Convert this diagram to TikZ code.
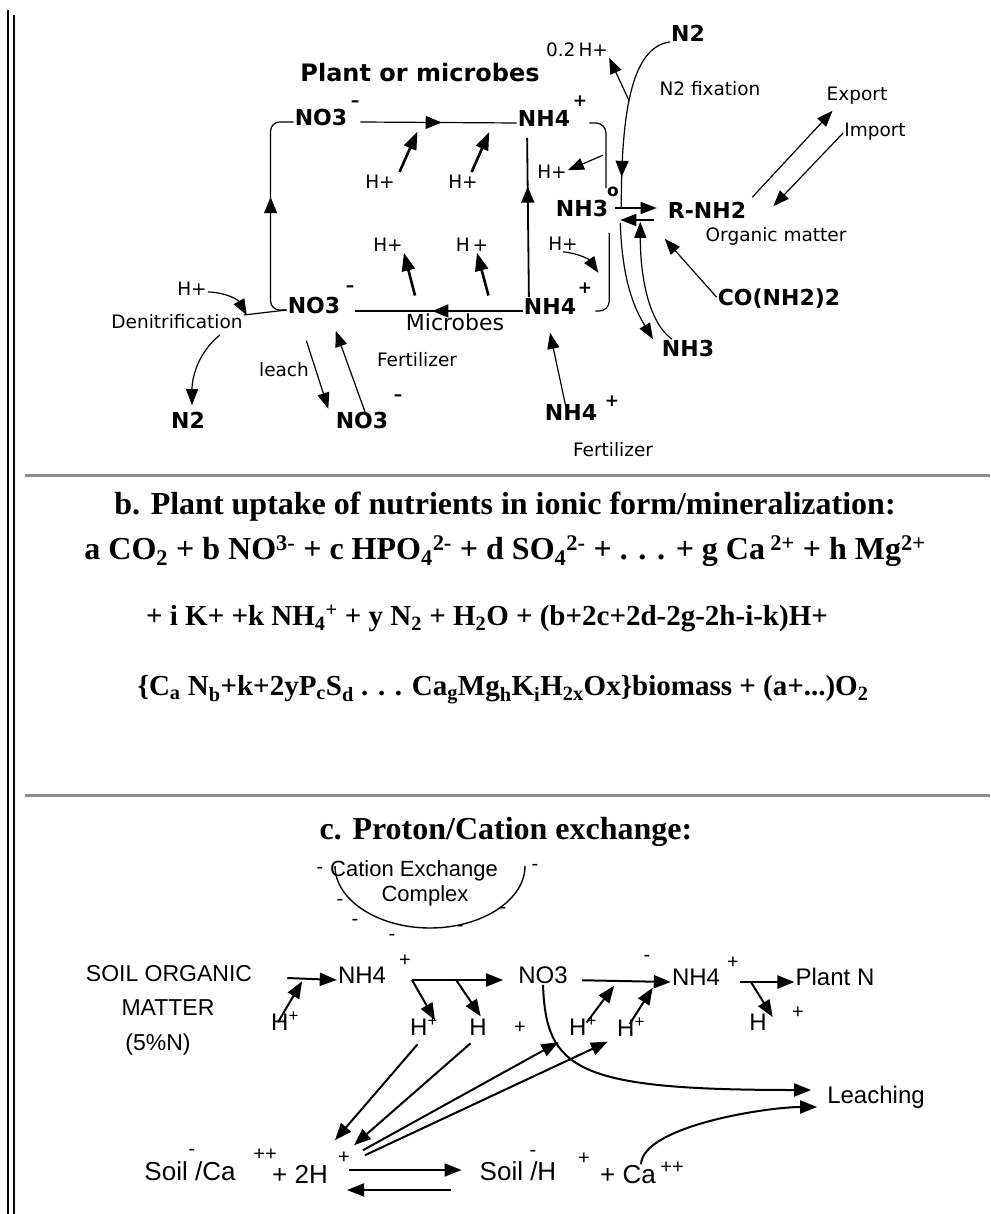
\documentclass[tikz,border=0pt]{standalone}
\usepackage{fontspec}
\setmainfont{Liberation Serif}
\newfontfamily\geneva{DejaVu Sans}
\newfontfamily\optima{Liberation Sans}
\usetikzlibrary{arrows.meta,decorations.markings}

\begin{document}
\begin{tikzpicture}[x=1pt, y=-1pt,
  every node/.style={inner sep=1pt, text height=.72em, text depth=0pt},
  lab/.style={font=\geneva\bfseries\fontsize{22}{24}\selectfont},
  sml/.style={font=\geneva\fontsize{18.5}{20}\selectfont},
  chg/.style={font=\geneva\bfseries\fontsize{17}{18}\selectfont},
  ctx/.style={font=\optima\fontsize{24}{26}\selectfont},
  soil/.style={font=\optima\fontsize{26}{28}\selectfont},
  csg/.style={font=\optima\fontsize{20}{22}\selectfont},
  ser/.style={font=\bfseries\fontsize{32}{38}\selectfont},
  sers/.style={font=\bfseries\fontsize{29}{34}\selectfont},
  ln/.style={line width=1.2pt},
  fa/.style={ln, -{Triangle[length=16pt,width=12pt]}},
  ha/.style={line width=2.6pt, -{Triangle[length=18pt,width=13pt]}},
  ca/.style={line width=2pt, -{Triangle[length=17pt,width=13pt]}},
  midarr/.style={postaction={decorate}, decoration={markings,
      mark=at position #1 with {\arrow{Triangle[length=16pt,width=13pt]}}}},
  sepline/.style={line width=3pt, draw=black!45}]

\useasboundingbox (0,0) rectangle (990,1214);

% frame and rules
\draw[line width=1.4pt] (8,10) -- (8,1214);
\draw[line width=1.4pt] (14,15) -- (14,1214);
\draw[sepline] (25,475) -- (990,475);
\draw[sepline] (25,795) -- (990,795);

% a. nitrogen cycle
\node[lab, font=\geneva\bfseries\fontsize{24}{26}\selectfont] (plant) at (420,78) {Plant or microbes};
\node[lab] (no3t) at (321,122) {NO3};
\node[chg] (no3tc) at (355,103) {\textendash};
\node[lab] (nh4t) at (544,123) {NH4};
\node[chg] (nh4tc) at (580,103) {+};
\node[lab] (no3b) at (314,310) {NO3};
\node[chg] (no3bc) at (350,288) {\textendash};
\node[lab] (nh4b) at (550,311) {NH4};
\node[sml, font=\geneva\fontsize{22}{24}\selectfont] (micro) at (455,327) {Microbes};
\node[sml] (ha1) at (380,185) {H+};
\node[sml] (ha2) at (463,185) {H+};
\node[sml] (hb1) at (388,248) {H+};
\node[sml] (hb2) at (472,248) {H\,+};
\node[sml] (hd) at (192,292) {H+};
\node[sml] (denit) at (177,325) {Denitrification};
\node[lab] (n2d) at (188,425) {N2};
\node[sml] (leach) at (284,373) {leach};
\node[lab] (no3l) at (362,425) {NO3};
\node[chg] (no3lc) at (398,397) {\textendash};
\node[sml] (fert1) at (417,363) {Fertilizer};
\node[lab] (n2t) at (688,38) {N2};
\node[sml] (h02) at (577,53) {0.2\,H+};
\node[sml] (fix) at (710,92) {N2 fixation};
\node[sml] (export) at (857,97) {Export};
\node[sml] (import) at (875,133) {Import};
\node[sml] (hn) at (552,175) {H+};
\node[chg] (alpha) at (613,193) {o};
\node[lab] (nh3) at (582,213) {NH3};
\node[lab] (rnh2) at (707,215) {R-NH2};
\node[sml] (orgm) at (776,238) {Organic matter};
\node[sml] (hs) at (563,247) {H+};
\node[chg] (hsc) at (585,290) {+};
\node[lab] (urea) at (779,302) {CO(NH2)2};
\node[lab] (nh3b) at (688,353) {NH3};
\node[lab] (nh4f) at (571,417) {NH4};
\node[chg] (nh4fc) at (612,403) {+};
\node[sml] (fert2) at (613,453) {Fertilizer};

\draw[ln, midarr=.52] (no3tc.east |- no3t) -- coordinate[pos=.39] (ht1) coordinate[pos=.85] (ht2) (nh4t.west);
\draw[ln, line width=1.8pt, midarr=.54] (nh4b.west) -- coordinate[pos=.62] (hl1) coordinate[pos=.18] (hl2) (no3bc.east |- nh4b.west);
\draw[ln, line width=1.8pt, midarr=.67, shorten <=9pt, shorten >=10pt] ([xshift=-21pt]nh4b.north) -- ([xshift=-17pt]nh4t.south);
\draw[ln, rounded corners=9pt, midarr=.57] (no3b.west) -- ([xshift=-16pt]no3b.west) |- (no3t.west);
\draw[ln] ([yshift=10pt]denit.east) -- (no3b.west);
\draw[fa] (hd.east) to[bend left=30] ([xshift=3pt,yshift=5pt]denit.north east);
\draw[fa] ([xshift=43pt,yshift=-5pt]denit.south) .. controls +(-22,18) and +(0,-28) .. ([xshift=4pt,yshift=15pt]n2d.north);
\draw[fa, shorten <=27pt, shorten >=12pt] ([xshift=-16pt]no3b.south) -- ([xshift=-30pt]no3l.north);
\draw[fa, shorten <=9pt, shorten >=17pt] ([xshift=6pt]no3l.north) -- ([xshift=16pt]no3b.south);
\draw[ha, shorten <=9pt, shorten >=10pt] (ha1.north east) -- (ht1);
\draw[ha, shorten <=9pt, shorten >=10pt] ([xshift=5pt]ha2.north) -- (ht2);
\draw[ha, shorten <=16pt] (hl1) -- (hb1.south east);
\draw[ha, shorten <=16pt] (hl2) -- ([xshift=5pt]hb2.south);
\draw[ln, midarr=.83] ([yshift=-4pt]n2t.west) .. controls +(-40,5) and +(0,-90) .. coordinate[pos=.54] (fixp) ([xshift=12pt]nh3.north east);
\draw[fa] (fixp) -- (h02.south east);
\draw[fa] ([xshift=5pt,yshift=13pt]rnh2.north east) -- ([xshift=7pt,yshift=-9pt]export.south west);
\draw[fa] (import.west) -- ([xshift=26pt,yshift=4pt]rnh2.north east);
\draw[ln, rounded corners=10pt] ([xshift=18pt]nh4t.east) -| (alpha.north west);
\draw[fa] ([xshift=-3pt,yshift=33pt]alpha.north west) -- (hn.north east);
\draw[fa] ([xshift=6pt,yshift=5pt]nh3.east) -- ([xshift=-10pt,yshift=7pt]rnh2.west);
\draw[fa] ([xshift=-13pt,yshift=-5pt]rnh2.west) -- ([xshift=11pt,yshift=-7pt]nh3.east);
\draw[fa] (urea.north west) -- ([xshift=-2pt,yshift=-19pt]rnh2.south west);
\draw[ln, rounded corners=10pt] ([yshift=-15pt]nh3.south east) |- ([xshift=18pt]nh4b.east);
\draw[fa] (hs.south) to[bend left=25] ([xshift=-11pt,yshift=-55pt]nh3.south east);
\draw[fa] ([xshift=11pt,yshift=-5pt]nh3.south east) .. controls +(2,60) and +(-18,-30) .. ([xshift=-35pt,yshift=9pt]nh3b.north);
\draw[fa] ([xshift=-16pt,yshift=9pt]nh3b.north) .. controls +(-25,-18) and +(0,50) .. ([xshift=31pt,yshift=-4pt]nh3.south east);
\draw[fa] ([xshift=-4pt]nh4f.north) -- ([yshift=-17pt]nh4b.south);

% b. uptake equation
\node[ser] (headb) at (505,511) {b. Plant uptake of nutrients in ionic form/mineralization:};
\node[ser] (eqa) at (505,556) {a CO\textsubscript{2} + b NO\textsuperscript{3-} + c HPO\textsubscript{4}\textsuperscript{2-} + d SO\textsubscript{4}\textsuperscript{2-} + . . . + g Ca\,\textsuperscript{2+} + h Mg\textsuperscript{2+}};
\node[sers] (eqb) at (487,622) {+ i K+ +k NH\textsubscript{4}\textsuperscript{+} + y N\textsubscript{2} + H\textsubscript{2}O + (b+2c+2d-2g-2h-i-k)H+};
\node[sers] (eqc) at (503,692) {\{C\textsubscript{a} N\textsubscript{b}+k+2yP\textsubscript{c}S\textsubscript{d} . . . Ca\textsubscript{g}Mg\textsubscript{h}K\textsubscript{i}H\textsubscript{2x}Ox\}biomass + (a+...)O\textsubscript{2}};

% c. proton / cation exchange
\node[ser] (headc) at (506,836) {c. Proton/Cation exchange:};
\node[ctx, font=\optima\fontsize{22}{24}\selectfont] (cec) at (414,873) {Cation Exchange};
\node[ctx, font=\optima\fontsize{22}{24}\selectfont] (cplx) at (425,898) {Complex};
\draw[line width=1.4pt] (335,866) .. controls (335,900) and (378,928) .. (430,928) .. controls (482,928) and (525,900) .. (525,866);
\node[csg] (cm1) at (320,870) {-};
\node[csg] (cm2) at (340,902) {-};
\node[csg] (cm3) at (355,922) {-};
\node[csg] (cm4) at (392,937) {-};
\node[csg] (cm5) at (460,928) {-};
\node[csg] (cm6) at (503,910) {-};
\node[csg] (cm7) at (535,867) {-};
\node[ctx, font=\optima\fontsize{23}{25}\selectfont] (som1) at (169,978) {SOIL ORGANIC};
\node[ctx, font=\optima\fontsize{23}{25}\selectfont] (som2) at (168,1012) {MATTER};
\node[ctx, font=\optima\fontsize{23}{25}\selectfont] (som3) at (158,1047) {(5\%N)};
\node[ctx] (hsom) at (285,1027) {H\textsuperscript{+}};
\node[ctx] (nh4c) at (362,980) {NH4};
\node[csg] (nh4cc) at (405,963) {+};
\node[ctx] (no3c) at (543,980) {NO3};
\node[csg] (no3cc) at (647,958) {-};
\node[ctx] (nh4d) at (696,982) {NH4};
\node[csg] (nh4dc) at (733,965) {+};
\node[ctx] (plantn) at (835,982) {Plant N};
\node[ctx] (hc1) at (424,1032) {H\textsuperscript{+}};
\node[ctx] (hc2) at (478,1032) {H};
\node[csg] (hc2c) at (520,1030) {+};
\node[ctx] (hc3) at (583,1032) {H\textsuperscript{+}};
\node[ctx] (hc4) at (631,1033) {H\textsuperscript{+}};
\node[ctx] (hc5) at (758,1027) {H};
\node[csg] (hc5c) at (798,1015) {+};
\node[ctx] (leaching) at (876,1100) {Leaching};
\node[soil] (soilca) at (190,1177) {Soil /Ca};
\node[csg] (soilcam) at (192,1152) {-};
\node[csg] (soilcap) at (265,1157) {++};
\node[soil] (twoh) at (300,1180) {+ 2H};
\node[csg] (twohp) at (344,1160) {+};
\node[soil] (soilh) at (518,1177) {Soil /H};
\node[csg] (soilhm) at (533,1153) {-};
\node[csg] (soilhp) at (584,1161) {+};
\node[soil] (caion) at (628,1180) {+ Ca};
\node[csg] (caionp) at (672,1170) {++};

\draw[ca] ([xshift=34pt]som1.east) -- coordinate[pos=.33] (somh) (nh4c.west);
\draw[ca, shorten >=3pt] ([xshift=8pt]hsom.north west) -- (somh);
\draw[ca, shorten >=14pt] (nh4cc.south east |- nh4c.east) -- coordinate[pos=0] (nc1) coordinate[pos=.42] (nc2) (no3c.west);
\draw[ca, shorten >=8pt] (nc1) -- (hc1.north east);
\draw[ca, shorten >=13pt] (nc2) -- ([xshift=10pt]hc2.north);
\draw[ca, shorten <=13pt] (no3c.east) -- coordinate[pos=.48] (nn1) coordinate[pos=.86] (nn2) (nh4d.west);
\draw[ca, shorten <=6pt, shorten >=6pt] (hc3.north) -- (nn1);
\draw[ca, shorten <=5pt, shorten >=7pt] ([xshift=-4pt]hc4.north) -- (nn2);
\draw[ca] (nh4dc.south east |- nh4d.east) -- coordinate[pos=.2] (pn1) (plantn.west);
\draw[ca, shorten >=6pt] (pn1) -- ([xshift=8pt]hc5.north east);
\draw[ca, shorten >=15pt] (no3c.south) .. controls +(3,85) and +(-250,0) .. ([yshift=10pt]leaching.west);
\draw[ca, shorten >=9pt] ([xshift=13pt,yshift=11pt]caion.north) .. controls +(2,-38) and +(-60,0) .. ([yshift=-7pt]leaching.west);
\draw[ca, shorten <=10pt] (hc1.south) -- ([xshift=-9pt,yshift=15pt]twohp.north);
\draw[ca, shorten <=10pt] (hc2.south) -- ([xshift=10pt,yshift=10pt]twohp.north);
\draw[ca, shorten >=11pt] ([xshift=19pt,yshift=5pt]twohp.north) -- (hc3.south west);
\draw[ca, shorten >=9pt] ([xshift=21pt]twohp.north) -- (hc4.south west);
\draw[ca] ([xshift=20pt,yshift=10pt]twoh.east) -- ([xshift=-17pt,yshift=7pt]soilh.west);
\draw[ca] ([xshift=-28pt,yshift=-13pt]soilh.west) -- ([xshift=18pt,yshift=-10pt]twoh.east);
\end{tikzpicture}
\end{document}
